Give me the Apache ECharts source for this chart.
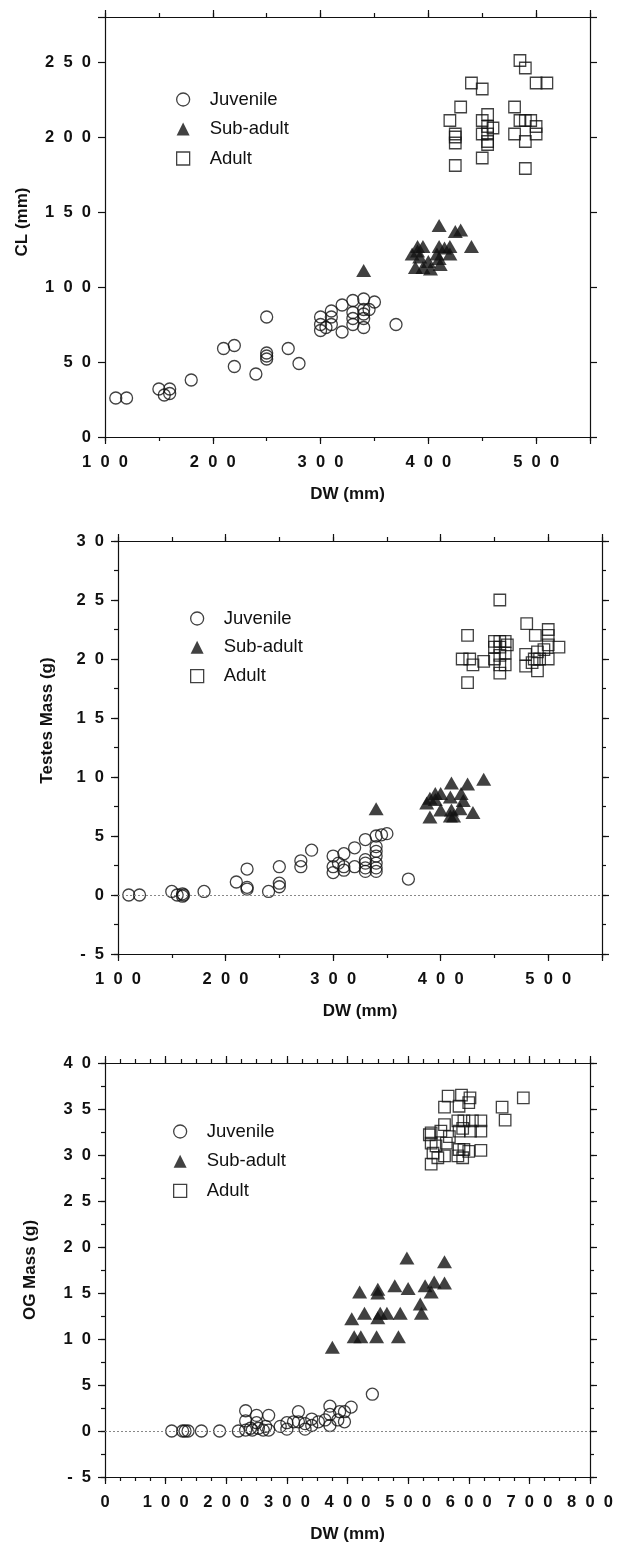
<!DOCTYPE html>
<html>
<head>
<meta charset="utf-8">
<script src="https://cdn.jsdelivr.net/npm/echarts@6/dist/echarts.min.js"></script>
<style>
html,body{margin:0;padding:0;background:#fff;}
#chart{width:621px;height:1544px;}
</style>
</head>
<body>
<div id="chart"></div>
<script>
// ---------- DATA ----------
const seriesNames = ['Juvenile', 'Sub-adult', 'Adult'];

// Panel 1: CL (mm) vs DW (mm)
const clJuvenile = [[110,26],[120,26],[150,32],[155,28],[160,32],[160,29],[180,38],[210,59],[220,61],[220,47],[250,80],[250,52],[250,54],[250,56],[240,42],[270,59],[280,49],[300,80],[300,75],[300,71],[305,73],[310,84],[310,80],[310,75],[320,88],[320,70],[330,91],[330,83],[330,79],[330,75],[340,92],[340,85],[340,82],[340,79],[340,73],[345,85],[350,90],[370,75]];
const clSubAdult = [[340,111],[410,141],[425,137],[430,138],[390,127],[395,127],[410,127],[420,127],[440,127],[385,122],[392,120],[400,117],[410,119],[420,122],[388,113],[395,113],[402,112],[411,115],[408,122],[415,126],[390,124]];
const clAdult = [[485,251],[490,246],[500,236],[510,236],[440,236],[450,232],[430,220],[480,220],[455,215],[420,211],[450,211],[485,211],[490,211],[495,211],[455,207],[460,206],[500,207],[500,202],[425,202],[425,200],[425,196],[450,202],[455,202],[455,197],[455,195],[480,202],[490,197],[450,186],[425,181],[490,179]];

// Panel 2: Testes Mass (g) vs DW (mm)
const tmJuvenile = [[110,0],[120,0],[150,0.3],[155,0],[160,0.1],[161,0],[160,-0.1],[180,0.3],[210,1.1],[220,2.2],[220,0.65],[220,0.5],[240,0.3],[250,2.4],[250,1.0],[250,0.7],[270,2.9],[270,2.4],[280,3.8],[300,3.3],[300,2.4],[300,1.9],[305,2.7],[310,3.5],[310,2.4],[310,2.1],[320,4.0],[320,2.4],[330,4.7],[330,3.0],[330,2.7],[330,2.3],[330,2.0],[340,5.0],[340,4.1],[340,3.7],[340,3.3],[340,2.7],[340,2.3],[340,2.0],[345,5.1],[350,5.2],[370,1.35]];
const tmSubAdult = [[340,7.3],[440,9.8],[410,9.5],[425,9.4],[395,8.6],[400,8.6],[390,8.2],[409,8.3],[419,8.6],[421,8.0],[387,7.8],[400,7.2],[410,7.2],[418,7.3],[430,7.0],[390,6.6],[409,6.7],[412,6.7],[395,8.1]];
const tmAdult = [[455,25],[480,23],[425,22],[420,20],[427,20],[430,19.5],[440,19.8],[425,18],[450,21.5],[455,21.5],[460,21.5],[450,21],[455,21],[460,20.5],[455,20.3],[450,20],[460,19.5],[455,19.5],[455,18.8],[462,21.2],[488,22],[490,20.6],[479,20.4],[479,19.4],[487,20],[490,19],[500,22.5],[500,22],[500,21.2],[500,20],[496,20.8],[510,21],[492,20],[485,19.7]];

// Panel 3: OG Mass (g) vs DW (mm)
const ogJuvenile = [[110,0],[128,0],[132,0],[137,0],[159,0],[189,0],[220,0],[232,2.2],[232,1.1],[232,0.1],[240,0.3],[243,0.1],[250,1.7],[250,0.9],[253,0.3],[261,0.1],[265,0.5],[270,1.7],[270,0.1],[289,0.5],[300,0.9],[300,0.2],[311,1.0],[319,2.1],[319,1.0],[330,0.8],[330,0.2],[341,1.3],[341,0.6],[352,1.0],[363,1.2],[371,2.7],[371,1.8],[371,0.6],[384,1.2],[387,2.1],[395,2.1],[395,1.0],[406,2.6],[441,4.0]];
const ogSubAdult = [[375,9.1],[498,18.8],[560,18.4],[420,15.1],[450,15.4],[450,15.0],[478,15.8],[500,15.5],[528,15.8],[543,16.2],[560,16.1],[538,15.1],[520,13.8],[522,12.8],[407,12.2],[428,12.8],[450,12.3],[454,12.8],[465,12.8],[487,12.8],[411,10.25],[422,10.25],[448,10.25],[484,10.25]];
const ogAdult = [[566,36.4],[588,36.5],[602,36.2],[560,35.2],[584,35.3],[600,35.7],[655,35.2],[690,36.2],[660,33.8],[582,33.7],[592,33.7],[606,33.7],[620,33.7],[620,32.6],[603,32.6],[560,33.3],[538,32.4],[554,32.6],[584,32.6],[590,32.9],[538,31.3],[546,31.0],[563,31.3],[541,30.2],[560,29.9],[549,29.7],[538,29.0],[584,30.6],[582,29.9],[600,30.4],[620,30.5],[592,30.6],[590,29.7],[568,32.0],[535,32.2]];

// Axis tick labels
const xLabels12 = [100,200,300,400,500];
const yLabels1 = [0,50,100,150,200,250];
const yLabels2 = [-5,0,5,10,15,20,25,30];
const xLabels3 = [0,100,200,300,400,500,600,700,800];
const yLabels3 = [-5,0,5,10,15,20,25,30,35,40];

// ---------- CHART ----------
const INK = '#111';
const SP = '\u2007';
function spaced(v){
  const s = String(v);
  if (s[0] === '-') return '-' + SP + s.slice(1).split('').join(SP);
  return s.split('').join(SP);
}
const panels = [
  {grid:{left:105, top:17, width:485, height:420},
   x:{min:100,max:550,major:100,minor:50,labels:xLabels12},
   y:{min:0,max:280,major:50,minor:null,labels:yLabels1},
   yName:'CL (mm)', yNameGap:74, yNameShift:10, data:[clJuvenile,clSubAdult,clAdult], zero:false,
   legend:{left:171, top:85, itemGap:10.5}},
  {grid:{left:118, top:541, width:484, height:413},
   x:{min:100,max:550,major:100,minor:50,labels:xLabels12},
   y:{min:-5,max:30,major:5,minor:2.5,labels:yLabels2},
   yName:'Testes Mass (g)', yNameGap:62, yNameShift:54, data:[tmJuvenile,tmSubAdult,tmAdult], zero:true,
   legend:{left:185, top:604, itemGap:9.8}},
  {grid:{left:105, top:1063, width:485, height:414},
   x:{min:0,max:800,major:100,minor:25,labels:xLabels3},
   y:{min:-5,max:40,major:5,minor:2.5,labels:yLabels3},
   yName:'OG Mass (g)', yNameGap:66, yNameShift:0, data:[ogJuvenile,ogSubAdult,ogAdult], zero:true,
   legend:{left:168, top:1117, itemGap:10.7}}
];

const lineStyle = {color:INK, width:1.2};
const FONT = 'Liberation Sans, Arial, sans-serif';
const labelStyle = {fontSize:16.5, fontWeight:'bold', color:INK, fontFamily:FONT};

const grids = [], xAxes = [], yAxes = [], series = [], legends = [];
const symStyles = [
  {symbol:'circle', symbolSize:12, itemStyle:{color:'transparent', borderColor:INK, borderWidth:1.3}},
  {symbol:'triangle', symbolSize:[15,13], itemStyle:{color:INK, borderColor:INK, borderWidth:0}},
  {symbol:'rect', symbolSize:11.5, itemStyle:{color:'transparent', borderColor:INK, borderWidth:1.3}}
];

panels.forEach((p, gi) => {
  grids.push(p.grid);
  const mainX = xAxes.length;
  ['bottom','top'].forEach(pos => {
    xAxes.push({
      gridIndex:gi, type:'value', position:pos, min:p.x.min, max:p.x.max, interval:p.x.major,
      axisLine:{show:true, onZero:false, lineStyle},
      axisTick:{show:true, length:7, lineStyle},
      splitLine:{show:false},
      axisLabel: pos === 'bottom' ? {show:true, margin:17, ...labelStyle,
        formatter: v => p.x.labels.includes(v) ? spaced(v) : ''} : {show:false},
      name: pos === 'bottom' ? 'DW (mm)' : '',
      nameLocation:'middle', nameGap:49,
      nameTextStyle:{fontSize:17, fontWeight:'bold', color:INK, fontFamily:FONT}
    });
    if (p.x.minor) xAxes.push({
      gridIndex:gi, type:'value', position:pos, min:p.x.min, max:p.x.max, interval:p.x.minor,
      axisLine:{show:false, onZero:false}, axisTick:{show:true, length:4, lineStyle},
      splitLine:{show:false}, axisLabel:{show:false}
    });
  });
  const mainY = yAxes.length;
  ['left','right'].forEach(pos => {
    yAxes.push({
      gridIndex:gi, type:'value', position:pos, min:p.y.min, max:p.y.max, interval:p.y.major,
      axisLine:{show:true, onZero:false, lineStyle},
      axisTick:{show:true, length:7, lineStyle},
      splitLine:{show:false},
      axisLabel: pos === 'left' ? {show:true, margin:14, ...labelStyle,
        formatter: v => p.y.labels.includes(v) ? spaced(v) : ''} : {show:false},
      name: pos === 'left' ? p.yName : '',
      nameLocation:'middle', nameGap:p.yNameGap, nameRotate:90,
      nameTextStyle:{fontSize:17, fontWeight:'bold', color:INK, fontFamily:FONT,
        padding:[0,0,0,p.yNameShift]}
    });
    if (p.y.minor) yAxes.push({
      gridIndex:gi, type:'value', position:pos, min:p.y.min, max:p.y.max, interval:p.y.minor,
      axisLine:{show:false, onZero:false}, axisTick:{show:true, length:4, lineStyle},
      splitLine:{show:false}, axisLabel:{show:false}
    });
  });
  p.data.forEach((d, si) => {
    const s = {
      type:'scatter', name:seriesNames[si], xAxisIndex:mainX, yAxisIndex:mainY,
      data:d, ...symStyles[si], z: 3 + si
    };
    if (si === 0 && p.zero) {
      s.markLine = {silent:true, symbol:['none','none'], label:{show:false},
        lineStyle:{type:[2,2], color:'#888', width:1},
        data:[{yAxis:0}]};
    }
    series.push(s);
  });
  legends.push({
    orient:'vertical', left:p.legend.left, top:p.legend.top, itemGap:p.legend.itemGap,
    itemWidth:13, itemHeight:13, selectedMode:false,
    textStyle:{fontSize:18.5, color:INK, lineHeight:18, fontFamily:FONT, padding:[0,0,0,15]},
    data: seriesNames.map((n, i) => ({name:n, icon:symStyles[i].symbol, itemStyle:symStyles[i].itemStyle}))
  });
});

const chart = echarts.init(document.getElementById('chart'), null, {renderer:'canvas'});
chart.setOption({
  backgroundColor:'#fff', animation:false,
  grid:grids, xAxis:xAxes, yAxis:yAxes, series:series, legend:legends
});
</script>
</body>
</html>
